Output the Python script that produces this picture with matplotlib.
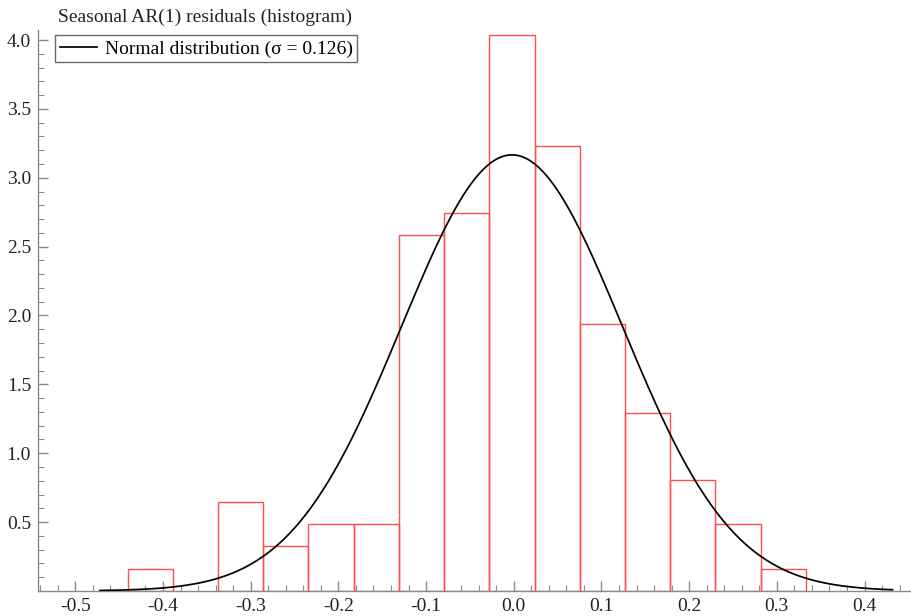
import numpy as np
import matplotlib
matplotlib.use("Agg")
import matplotlib.pyplot as plt
from matplotlib.ticker import MultipleLocator, FixedLocator

plt.rcParams['font.family'] = ['Liberation Serif', 'DejaVu Serif']

# histogram data (density)
bin_left = -0.4404
bin_width = 0.05157
densities = [0.162, 0.0, 0.646, 0.323, 0.485, 0.485, 2.586, 2.747, 4.040,
             3.232, 1.939, 1.293, 0.808, 0.485, 0.162]
sigma = 0.126
mu = -0.002
curve_range = (-0.472, 0.432)

title = "Seasonal AR(1) residuals (histogram)"
legend_label = "Normal distribution (σ = 0.126)"
xticks = [-0.5, -0.4, -0.3, -0.2, -0.1, 0.0, 0.1, 0.2, 0.3, 0.4]
yticks = [0.5, 1.0, 1.5, 2.0, 2.5, 3.0, 3.5, 4.0]

fig = plt.figure(figsize=(9.11, 6.16), dpi=100)
ax = fig.add_axes([38/911, 1-590.9/616, (911-38)/911, (590.9-30)/616])

edges = bin_left + bin_width*np.arange(len(densities)+1)
for i, d in enumerate(densities):
    if d > 0:
        ax.bar(edges[i], d, width=bin_width, align='edge', facecolor='none',
               edgecolor='#ff4d4d', linewidth=1.0, zorder=2)

xs = np.linspace(curve_range[0], curve_range[1], 400)
ys = np.exp(-0.5*((xs-mu)/sigma)**2)/(sigma*np.sqrt(2*np.pi))
line, = ax.plot(xs, ys, color='black', linewidth=1.25, zorder=3, label=legend_label)

ax.set_xlim(-0.5425, 0.453)
ax.set_ylim(0, 4.073)

for s in ['top', 'right']:
    ax.spines[s].set_visible(False)
for s in ['left', 'bottom']:
    ax.spines[s].set_color('#8a8a8a')
    ax.spines[s].set_linewidth(1.0)

ax.xaxis.set_major_locator(FixedLocator(xticks))
ax.set_xticklabels([f"{v:.1f}" for v in xticks])
ax.xaxis.set_minor_locator(MultipleLocator(0.02))
ax.yaxis.set_major_locator(FixedLocator(yticks))
ax.set_yticklabels([f"{v:.1f}" for v in yticks])
ax.yaxis.set_minor_locator(MultipleLocator(0.1))
ax.tick_params(which='major', direction='in', length=7, width=1.0, color='#8a8a8a',
               labelsize=14, labelcolor='#222222', pad=5)
ax.tick_params(which='minor', direction='in', length=4, width=0.8, color='#8a8a8a')

fig.text(58/911, 1-17/616, title, fontsize=14, ha='left', va='center', color='#222222')
leg = ax.legend(handles=[line], loc='upper left', bbox_to_anchor=(17/873, 1-5/560.9),
                fontsize=14, frameon=True, fancybox=False, edgecolor='#444444',
                borderpad=0.25, handlelength=1.9, handletextpad=0.4, borderaxespad=0)
leg.get_frame().set_linewidth(1.0)

fig.savefig('out.png', dpi=100)
